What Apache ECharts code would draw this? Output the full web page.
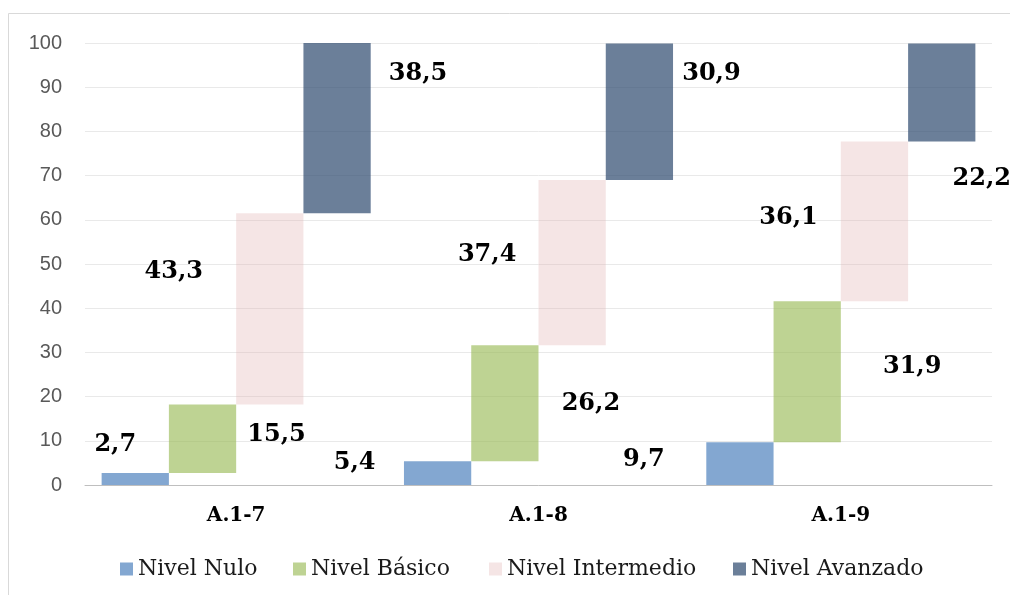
<!DOCTYPE html>
<html>
<head>
<meta charset="utf-8">
<script src="https://cdn.jsdelivr.net/npm/echarts@6/dist/echarts.min.js"></script>
<style>
html,body{margin:0;padding:0;background:#fff;}
#c{width:1010px;height:595px;}
</style>
</head>
<body>
<div id="c"></div>
<script>
const categories = ['A.1-7', 'A.1-8', 'A.1-9'];
const levels = ['Nivel Nulo', 'Nivel Básico', 'Nivel Intermedio', 'Nivel Avanzado'];
const nulo = [2.7, 5.4, 9.7];
const basico = [15.5, 26.2, 31.9];
const intermedio = [43.3, 37.4, 36.1];
const avanzado = [38.5, 30.9, 22.2];
const yTicks = { min: 0, max: 100, step: 10 };

// layout / style (not data)
const colors = ['rgba(79,129,189,0.7)', 'rgba(155,187,89,0.65)', 'rgba(226,180,180,0.35)', 'rgba(44,72,110,0.7)'];
const labelOffsets = [
  [[-20, -34], [-83, -10], [-96, -4]],
  [[74, -4], [86, 1], [105, -5]],
  [[-96, -37], [-85, -8], [-86, -4]],
  [[81, -54], [72, -38], [40, 86]]
];
const legendLefts = [115, 288, 484, 728];

const valuesByLevel = [nulo, basico, intermedio, avanzado];
const fmt = v => v.toFixed(1).replace('.', ',');

const series = [];
valuesByLevel.forEach((vals, k) => {
  const base = categories.map((_, i) => {
    let s = 0;
    for (let j = 0; j < k; j++) s += valuesByLevel[j][i];
    return +s.toFixed(1);
  });
  series.push({
    name: '_base' + k,
    type: 'bar',
    stack: 's' + k,
    silent: true,
    itemStyle: { color: 'transparent' },
    data: base,
    barGap: '0%',
    barCategoryGap: '11%'
  });
  series.push({
    name: levels[k],
    type: 'bar',
    stack: 's' + k,
    barGap: '0%',
    barCategoryGap: '11%',
    itemStyle: { color: colors[k] },
    label: {
      show: true,
      position: 'inside',
      formatter: p => fmt(p.value),
      fontFamily: 'DejaVu Serif',
      fontWeight: 'bold',
      fontSize: 24,
      color: '#000'
    },
    data: vals.map((v, i) => ({ value: v, label: { offset: labelOffsets[k][i] } }))
  });
});

const chart = echarts.init(document.getElementById('c'), null, { renderer: 'canvas' });
chart.setOption({
  animation: false,
  backgroundColor: '#fff',
  graphic: [{
    type: 'rect',
    shape: { x: 8.5, y: 13.5, width: 1100, height: 700 },
    style: { fill: 'none', stroke: '#d9d9d9', lineWidth: 1 },
    z: -10
  }],
  grid: { left: 85, right: 18, top: 43, bottom: 110, containLabel: false },
  legend: levels.map((name, i) => ({
    data: [name],
    left: legendLefts[i],
    top: 553,
    icon: 'rect',
    itemWidth: 13,
    itemHeight: 13,
    itemGap: 5,
    selectedMode: false,
    textStyle: { fontFamily: 'DejaVu Serif', fontSize: 22, color: '#1a1a1a' }
  })),
  xAxis: {
    type: 'category',
    data: categories,
    axisLine: { lineStyle: { color: '#bfbfbf', width: 1 } },
    axisTick: { show: false },
    axisLabel: {
      margin: 21,
      fontFamily: 'DejaVu Serif',
      fontWeight: 'bold',
      fontSize: 20,
      color: '#000'
    }
  },
  yAxis: {
    type: 'value',
    min: yTicks.min,
    max: yTicks.max,
    interval: yTicks.step,
    axisLine: { show: false },
    axisTick: { show: false },
    splitLine: { lineStyle: { color: '#e9e9e9', width: 1 } },
    axisLabel: {
      margin: 23,
      fontFamily: 'Liberation Sans',
      fontSize: 20,
      color: '#595959'
    }
  },
  series: series
});
</script>
</body>
</html>
